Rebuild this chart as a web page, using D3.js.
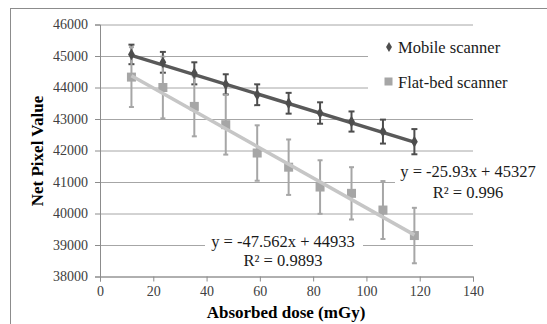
<!DOCTYPE html>
<html>
<head>
<meta charset="utf-8">
<script src="https://cdn.jsdelivr.net/npm/d3@7"></script>
<style>
  body { margin: 0; background: #fff; }
  svg { display: block; }
  svg text { font-family: "Liberation Serif", "DejaVu Serif", serif; }
</style>
</head>
<body>
<div id="chart"></div>
<script>
// data
var doses = [11.8, 23.6, 35.4, 47.2, 59, 70.8, 82.6, 94.4, 106.2, 118];
var mobileValues = [45050, 44800, 44450, 44100, 43770, 43500, 43190, 42920, 42600, 42280];
var mobileErrors = [310, 330, 350, 320, 330, 330, 340, 320, 380, 400];
var flatValues = [44330, 44000, 43400, 42820, 41920, 41470, 40840, 40640, 40110, 39300];
var flatErrors = [950, 980, 950, 950, 880, 880, 850, 830, 920, 880];
var seriesNames = ["Mobile scanner", "Flat-bed scanner"];
var trendSlopes = [-25.93, -47.562];
var trendIntercepts = [45327, 44933];
var trendLabels = [["y = -25.93x + 45327", "R\u00b2 = 0.996"], ["y = -47.562x + 44933", "R\u00b2 = 0.9893"]];
var yTicks = [38000, 39000, 40000, 41000, 42000, 43000, 44000, 45000, 46000];
var xTicks = [0, 20, 40, 60, 80, 100, 120, 140];

var FONT = "Liberation Serif, serif";
var W = 547, H = 324;
var svg = d3.select("#chart").append("svg")
	.attr("width", W)
	.attr("height", H)
	.attr("font-family", FONT);

// outer chart border (right and bottom are cut off in the source)
svg.append("rect")
	.attr("x", 10.5).attr("y", 8.5)
	.attr("width", 560).attr("height", 340)
	.attr("fill", "#fff")
	.attr("stroke", "#8c8c8c");

var x = d3.scaleLinear().domain([0, 140]).range([100, 473]);
var y = d3.scaleLinear().domain([38000, 46000]).range([276.5, 24.5]);

// gridlines
svg.append("g")
	.attr("transform", "translate(100,0)")
	.call(d3.axisLeft(y).tickValues(yTicks).tickSize(-373).tickFormat(""))
	.call(function(g) {
		g.select(".domain").remove();
		g.selectAll("line").attr("stroke", "#a6a6a6");
	});

// y axis
svg.append("g")
	.attr("transform", "translate(100,0)")
	.call(d3.axisLeft(y).tickValues(yTicks).tickSize(5).tickPadding(7).tickFormat(d3.format("d")))
	.attr("font-family", FONT)
	.call(function(g) {
		g.select(".domain").attr("stroke", "#8c8c8c");
		g.selectAll("line").attr("stroke", "#8c8c8c");
		g.selectAll("text").attr("font-family", FONT).attr("font-size", "14px").attr("fill", "#404040");
	});

// x axis
svg.append("g")
	.attr("transform", "translate(0," + y(38000) + ")")
	.call(d3.axisBottom(x).tickValues(xTicks).tickSize(5).tickPadding(5).tickFormat(d3.format("d")))
	.attr("font-family", FONT)
	.call(function(g) {
		g.select(".domain").attr("stroke", "#8c8c8c");
		g.selectAll("line").attr("stroke", "#8c8c8c");
		g.selectAll("text").attr("font-family", FONT).attr("font-size", "14px").attr("fill", "#404040");
	});

// axis titles
svg.append("text")
	.attr("transform", "translate(43,151) rotate(-90)")
	.attr("text-anchor", "middle")
	.attr("font-weight", "bold")
	.attr("font-size", "17px")
	.text("Net Pixel Value");

svg.append("text")
	.attr("x", 286).attr("y", 318)
	.attr("text-anchor", "middle")
	.attr("font-weight", "bold")
	.attr("font-size", "17px")
	.text("Absorbed dose (mGy)");

var series = [
	{ values: mobileValues, errors: mobileErrors, color: "#4d4d4d", line: "#595959", cap: 3 },
	{ values: flatValues, errors: flatErrors, color: "#a6a6a6", line: "#c6c6c6", cap: 2.5 }
];

function drawErrors(s) {
	var g = svg.append("g").attr("stroke", s.color).attr("stroke-width", 2);
	doses.forEach(function(d, i) {
		var lo = y(s.values[i] - s.errors[i]), hi = y(s.values[i] + s.errors[i]);
		g.append("line").attr("x1", x(d)).attr("x2", x(d)).attr("y1", lo).attr("y2", hi);
		g.append("line").attr("x1", x(d) - s.cap).attr("x2", x(d) + s.cap).attr("y1", lo).attr("y2", lo);
		g.append("line").attr("x1", x(d) - s.cap).attr("x2", x(d) + s.cap).attr("y1", hi).attr("y2", hi);
	});
}

function drawTrend(k, col) {
	var x0 = doses[0], x1 = doses[doses.length - 1];
	svg.append("line")
		.attr("x1", x(x0)).attr("y1", y(trendSlopes[k] * x0 + trendIntercepts[k]))
		.attr("x2", x(x1)).attr("y2", y(trendSlopes[k] * x1 + trendIntercepts[k]))
		.attr("stroke", col)
		.attr("stroke-width", 3.5);
}

drawErrors(series[0]);
drawErrors(series[1]);

// flat-bed squares + trend
svg.append("g").selectAll("rect")
	.data(flatValues)
	.enter()
	.append("rect")
	.attr("x", function(d, i) { return x(doses[i]) - 4.5; })
	.attr("y", function(d) { return y(d) - 4.5; })
	.attr("width", 9).attr("height", 9)
	.attr("fill", series[1].color);
drawTrend(1, series[1].line);

drawTrend(0, series[0].line);
var diamond = d3.symbol().type(d3.symbolDiamond).size(40);
svg.append("g").selectAll("path")
	.data(mobileValues)
	.enter()
	.append("path")
	.attr("d", diamond)
	.attr("transform", function(d, i) { return "translate(" + x(doses[i]) + "," + y(d) + ")"; })
	.attr("fill", series[0].color);

// legend
svg.append("rect").attr("x", 368).attr("y", 30).attr("width", 178).attr("height", 74).attr("fill", "#fff");
svg.append("path")
	.attr("d", d3.symbol().type(d3.symbolDiamond).size(30))
	.attr("transform", "translate(389,47)")
	.attr("fill", series[0].color);
svg.append("rect").attr("x", 384.5).attr("y", 77.5).attr("width", 8).attr("height", 8).attr("fill", series[1].color);
svg.selectAll(".leg")
	.data(seriesNames)
	.enter()
	.append("text")
	.attr("x", 398)
	.attr("y", function(d, i) { return 52.5 + i * 35; })
	.attr("font-family", FONT)
	.attr("font-size", "16.5px")
	.attr("fill", "#1a1a1a")
	.text(function(d) { return d; });

// trendline equation labels
var labelPos = [
	{ bx: 395, by: 161, bw: 150, bh: 42, cx: 468, y1: 177, y2: 198 },
	{ bx: 205, by: 232, bw: 158, bh: 38, cx: 283, y1: 247, y2: 266 }
];
labelPos.forEach(function(p, k) {
	svg.append("rect").attr("x", p.bx).attr("y", p.by).attr("width", p.bw).attr("height", p.bh).attr("fill", "#fff");
	svg.append("text").attr("x", p.cx).attr("y", p.y1).attr("text-anchor", "middle").attr("font-family", FONT)
		.attr("font-size", "16.5px").attr("fill", "#1a1a1a").text(trendLabels[k][0]);
	svg.append("text").attr("x", p.cx).attr("y", p.y2).attr("text-anchor", "middle").attr("font-family", FONT)
		.attr("font-size", "16.5px").attr("fill", "#1a1a1a").text(trendLabels[k][1]);
});
</script>
</body>
</html>
